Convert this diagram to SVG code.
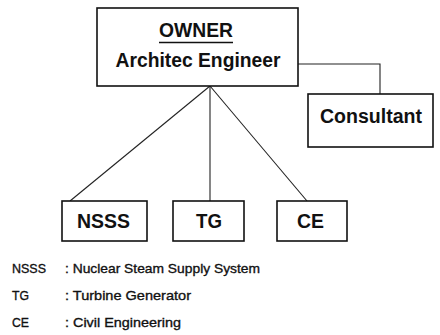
<svg xmlns="http://www.w3.org/2000/svg" width="440" height="335" viewBox="0 0 440 335">
<style>
.box{fill:#fff;stroke:#111;stroke-width:1.6}
.t{font-family:"Liberation Sans",Arial,sans-serif;font-weight:bold;fill:#111;text-anchor:middle}
.c{fill:none;stroke:#222;stroke-width:1.1}
.lg{font-family:"Liberation Sans Narrow","Liberation Sans",Arial,sans-serif;font-size:13.5px;fill:#111;stroke:#111;stroke-width:0.35}
</style>
<rect width="440" height="335" fill="#fff"/>
<g id="connectors">
<polyline class="c" points="298,64 380,64 380,94"/>
<line class="c" x1="210" y1="86" x2="70" y2="201"/>
<line class="c" x1="210" y1="86" x2="210" y2="201"/>
<line class="c" x1="210" y1="86" x2="307" y2="201"/>
</g>
<g id="owner">
<rect class="box" x="97" y="8" width="201" height="78"/>
<text class="t" x="196" y="37" font-size="20" textLength="74" lengthAdjust="spacingAndGlyphs">OWNER</text>
<line x1="159" y1="42.5" x2="233" y2="42.5" stroke="#111" stroke-width="1.6"/>
<text class="t" x="198" y="67" font-size="20" textLength="165" lengthAdjust="spacingAndGlyphs">Architec Engineer</text>
</g>
<g id="consultant">
<rect class="box" x="308" y="94" width="125" height="53"/>
<text class="t" x="371" y="123" font-size="20" textLength="102" lengthAdjust="spacingAndGlyphs">Consultant</text>
</g>
<g id="nsss">
<rect class="box" x="62" y="201" width="85" height="40"/>
<text class="t" x="103.5" y="228" font-size="20" textLength="53" lengthAdjust="spacingAndGlyphs">NSSS</text>
</g>
<g id="tg">
<rect class="box" x="173" y="201" width="71" height="40"/>
<text class="t" x="209" y="228" font-size="20" textLength="26" lengthAdjust="spacingAndGlyphs">TG</text>
</g>
<g id="ce">
<rect class="box" x="277" y="201" width="70" height="40"/>
<text class="t" x="310.5" y="228" font-size="20" textLength="27" lengthAdjust="spacingAndGlyphs">CE</text>
</g>
<g id="legend">
<text class="lg" x="12" y="273" textLength="34" lengthAdjust="spacingAndGlyphs">NSSS</text>
<text class="lg" x="65" y="273" textLength="195" lengthAdjust="spacingAndGlyphs">: Nuclear Steam Supply System</text>
<text class="lg" x="12" y="300" textLength="17" lengthAdjust="spacingAndGlyphs">TG</text>
<text class="lg" x="65" y="300" textLength="126" lengthAdjust="spacingAndGlyphs">: Turbine Generator</text>
<text class="lg" x="12" y="327" textLength="17" lengthAdjust="spacingAndGlyphs">CE</text>
<text class="lg" x="65" y="327" textLength="116" lengthAdjust="spacingAndGlyphs">: Civil Engineering</text>
</g>
</svg>
